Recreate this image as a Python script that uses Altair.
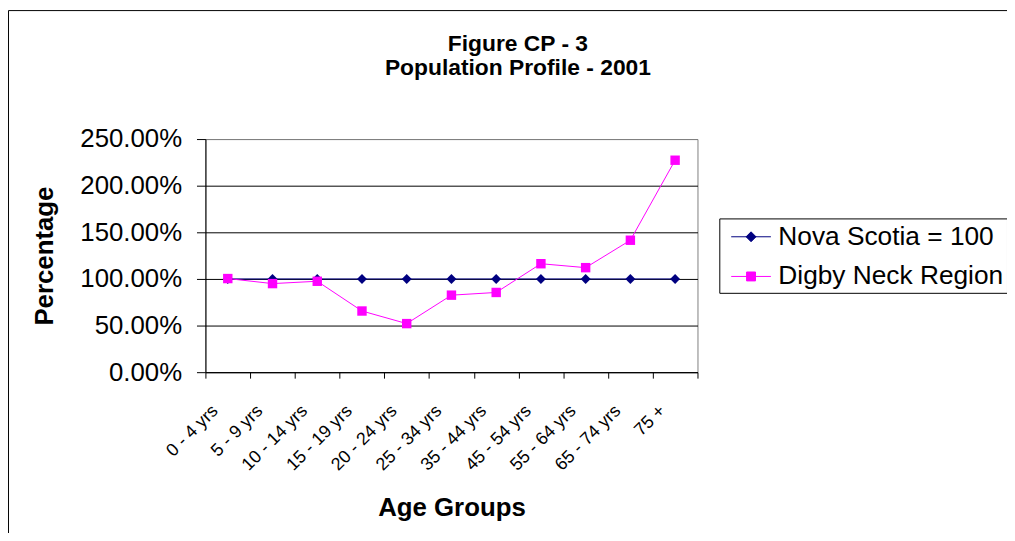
import altair as alt
import pandas as pd

age_groups = ["0 - 4 yrs", "5 - 9 yrs", "10 - 14 yrs", "15 - 19 yrs", "20 - 24 yrs",
              "25 - 34 yrs", "35 - 44 yrs", "45 - 54 yrs", "55 - 64 yrs", "65 - 74 yrs", "75 +"]
nova_scotia = [1.0, 1.0, 1.0, 1.0, 1.0, 1.0, 1.0, 1.0, 1.0, 1.0, 1.0]
digby_neck = [1.004, 0.950, 0.975, 0.656, 0.521, 0.826, 0.855, 1.163, 1.121, 1.415, 2.273]
series_names = ["Nova Scotia = 100", "Digby Neck Region"]
series_colors = ["#000080", "#FF00FF"]
y_ticks = [0, 0.5, 1.0, 1.5, 2.0, 2.5]

# legend symbols: a short line with the marker on it
legend_paths = [
    "M-1.333,0H1.333M0,-0.333L0.333,0L0,0.333L-0.333,0Z",
    "M-1.333,0H1.333M-0.3,-0.3H0.3V0.3H-0.3Z",
]

rows = []
for name, vals in zip(series_names, [nova_scotia, digby_neck]):
    for ag, v in zip(age_groups, vals):
        rows.append({"age": ag, "series": name, "value": v})
df = pd.DataFrame(rows)

W, H = 496, 235
FONT = "Liberation Sans"

x = alt.X("age:N", sort=age_groups,
          scale=alt.Scale(type="band", paddingInner=0, paddingOuter=0),
          axis=alt.Axis(tickBand="extent", labelAngle=315, labelAlign="right",
                        labelBaseline="middle", labelFontSize=18, labelPadding=30,
                        labelOffset=-13,
                        tickSize=6, grid=False, titleY=144, titleBaseline="alphabetic",
                        titleFontSize=26),
          title="Age Groups")
y = alt.Y("value:Q", scale=alt.Scale(domain=[0, 2.5], nice=False, zero=True),
          axis=alt.Axis(values=y_ticks, format=".2%", labelFontSize=26, labelPadding=15,
                        tickSize=9, grid=True,
                        gridColor=alt.condition("datum.value >= 2.5", alt.value("#808080"), alt.value("black")),
                        titleX=-154, titleBaseline="alphabetic", titleFontSize=26),
          title="Percentage")

base = alt.Chart(df)

layers = []
frame = alt.Chart(pd.DataFrame({"f": [0]})).mark_rect(
    fillOpacity=0, stroke="black", strokeWidth=1
).encode(x=alt.value(-198.5), x2=alt.value(W + 330), y=alt.value(-129.5), y2=alt.value(H + 220))
layers.append(frame)

for name, color in zip(series_names, series_colors):
    layers.append(base.transform_filter(alt.datum.series == name)
                  .mark_line(color=color, strokeWidth=1).encode(x=x, y=y))

layers.append(base.transform_filter(alt.datum.series == series_names[0])
              .mark_point(shape="diamond", filled=True, size=100, color=series_colors[0], opacity=1)
              .encode(x=x, y=y))
layers.append(base.transform_filter(alt.datum.series == series_names[1])
              .mark_point(shape="square", filled=True, size=90, color=series_colors[1], opacity=1)
              .encode(x=x, y=y))

leg = alt.Legend(title=None, orient="none", legendX=518, legendY=80)
legend_layer = alt.Chart(pd.DataFrame({"series": series_names})).transform_filter("false").mark_point(
    filled=True, opacity=1
).encode(
    fill=alt.Fill("series:N", scale=alt.Scale(domain=series_names, range=series_colors), legend=leg),
    stroke=alt.Stroke("series:N", scale=alt.Scale(domain=series_names, range=series_colors), legend=leg),
    shape=alt.Shape("series:N", scale=alt.Scale(domain=series_names, range=legend_paths), legend=leg),
)
layers.append(legend_layer)

chart = alt.layer(*layers).properties(
    width=W, height=H,
    padding={"left": 199, "top": 130, "right": 312, "bottom": 160},
    autosize=alt.AutoSizeParams(type="none"),
    title=alt.TitleParams(
        text=["Figure CP - 3", "Population Profile - 2001"],
        fontSize=23, font=FONT, fontWeight="bold", anchor="middle", frame="group", dx=67,
        lineHeight=24, color="black", offset=-70,
    ),
).configure_view(
    fill="#C0C0C0", stroke="#808080", strokeWidth=1
).configure_axis(
    labelFont=FONT, titleFont=FONT, labelColor="black", titleColor="black",
    tickColor="black", domainColor="black", titleFontWeight="bold",
    labelOverlap=False, labelFlush=False,
).configure_legend(
    labelFont=FONT, labelFontSize=26.5, labelColor="black", labelLimit=500,
    strokeColor="black", fillColor="white", padding=3, cornerRadius=0,
    symbolSize=900, symbolStrokeWidth=1, symbolOffset=13.5, labelOffset=12,
    rowPadding=11,
)

chart.save("out.html", embed_options={"renderer": "svg", "actions": False})
